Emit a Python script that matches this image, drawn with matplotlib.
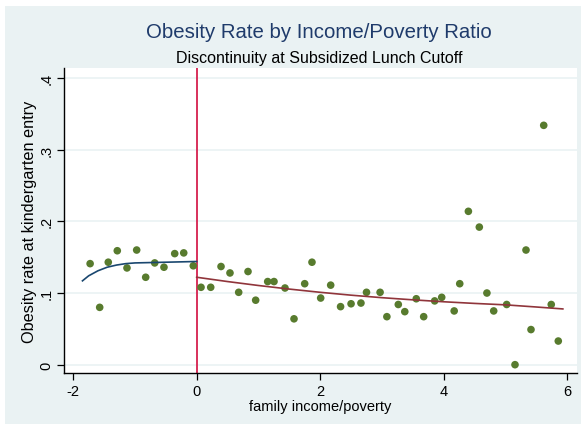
import matplotlib
matplotlib.use("Agg")
import matplotlib.pyplot as plt
from matplotlib.patches import Rectangle
import numpy as np

plt.rcParams['font.family'] = ['Liberation Sans', 'DejaVu Sans']

# binned scatter: family income/poverty (centered at cutoff) vs obesity rate
x_pts = [-1.726, -1.571, -1.432, -1.286, -1.129, -0.972, -0.826, -0.68, -0.53, -0.356, -0.21, -0.055,
         0.07, 0.227, 0.394, 0.539, 0.68, 0.831, 0.955, 1.15, 1.252, 1.43, 1.576, 1.749, 1.867, 2.008,
         2.17, 2.33, 2.50, 2.66, 2.75, 2.97, 3.08, 3.265, 3.37, 3.556, 3.676, 3.854, 3.968,
         4.17, 4.26, 4.40, 4.577, 4.70, 4.81, 5.02, 5.155, 5.333, 5.414, 5.62, 5.742, 5.856]
y_pts = [0.141, 0.080, 0.143, 0.159, 0.135, 0.160, 0.122, 0.142, 0.136, 0.155, 0.156, 0.138,
         0.108, 0.108, 0.137, 0.128, 0.101, 0.130, 0.090, 0.116, 0.116, 0.107, 0.064, 0.113, 0.143, 0.093,
         0.111, 0.081, 0.085, 0.086, 0.101, 0.101, 0.067, 0.084, 0.074, 0.092, 0.067, 0.089, 0.094,
         0.075, 0.113, 0.214, 0.192, 0.100, 0.075, 0.084, 0.000, 0.160, 0.049, 0.334, 0.084, 0.033]

# fitted curves
left_fit_x = [-1.85, -1.75, -1.6, -1.45, -1.3, -1.15, -1.0, -0.75, -0.5, -0.25, 0.0]
left_fit_y = [0.117, 0.124, 0.131, 0.136, 0.139, 0.141, 0.142, 0.1425, 0.143, 0.1435, 0.144]
right_fit_x = [0.0, 0.5, 1.0, 1.5, 2.0, 2.5, 3.0, 3.5, 4.0, 4.5, 5.0, 5.5, 5.93]
right_fit_y = [0.122, 0.1160, 0.1105, 0.1055, 0.1010, 0.0970, 0.0935, 0.0905, 0.0878, 0.0855, 0.0835, 0.0805, 0.0778]

cutoff = 0
x_ticks = [-2, 0, 2, 4, 6]
y_ticks = [0, 0.1, 0.2, 0.3, 0.4]
y_ticklabels = ['0', '.1', '.2', '.3', '.4']

bg = '#EAF2F3'
fig = plt.figure(figsize=(5.86, 4.31), dpi=100, facecolor='white')
fig.patches.append(Rectangle((5/586, 1 - 425/431), (581-5)/586, (425-7)/431,
                             transform=fig.transFigure, facecolor=bg, edgecolor='none', zorder=-10))

ax = fig.add_axes([64/586, 1 - 374/431, (577-64)/586, (374-69)/431])
ax.set_facecolor('white')

ax.set_xlim(-2.149, 6.159)
ax.set_ylim(-0.0116, 0.414)

for yt in y_ticks:
    ax.axhline(yt, color=bg, lw=1.2, zorder=0)

ax.scatter(x_pts, y_pts, s=30, color='#587B2E', edgecolors='none', zorder=3)
ax.plot(left_fit_x, left_fit_y, color='#1A476F', lw=1.2, zorder=4)
ax.plot(right_fit_x, right_fit_y, color='#90353B', lw=1.2, zorder=4)
ax.axvline(cutoff, color='#D6204E', lw=1.3, zorder=2)

for s in ['top', 'right']:
    ax.spines[s].set_visible(False)
for s in ['left', 'bottom']:
    ax.spines[s].set_color('black')
    ax.spines[s].set_linewidth(1.0)

ax.set_xticks(x_ticks)
ax.set_xticklabels([str(t) for t in x_ticks], fontsize=10.5)
ax.set_yticks(y_ticks)
ax.set_yticklabels(y_ticklabels, fontsize=10.5, rotation=90, va='center')
ax.tick_params(axis='both', direction='out', length=5, width=0.9, color='black', pad=3)
ax.tick_params(axis='y', pad=2.5)

ax.set_xlabel('family income/poverty', fontsize=10.5, labelpad=1)
ax.set_ylabel('Obesity rate at kindergarten entry', fontsize=11.7, labelpad=1.7)

fig.text(319/586, 1 - 33/431, 'Obesity Rate by Income/Poverty Ratio',
         ha='center', va='center', fontsize=14.7, color='#1F3B6B')
fig.text(319.5/586, 1 - 59/431, 'Discontinuity at Subsidized Lunch Cutoff',
         ha='center', va='center', fontsize=11.5, color='black')

fig.savefig('out.png', dpi=100, facecolor='white')
